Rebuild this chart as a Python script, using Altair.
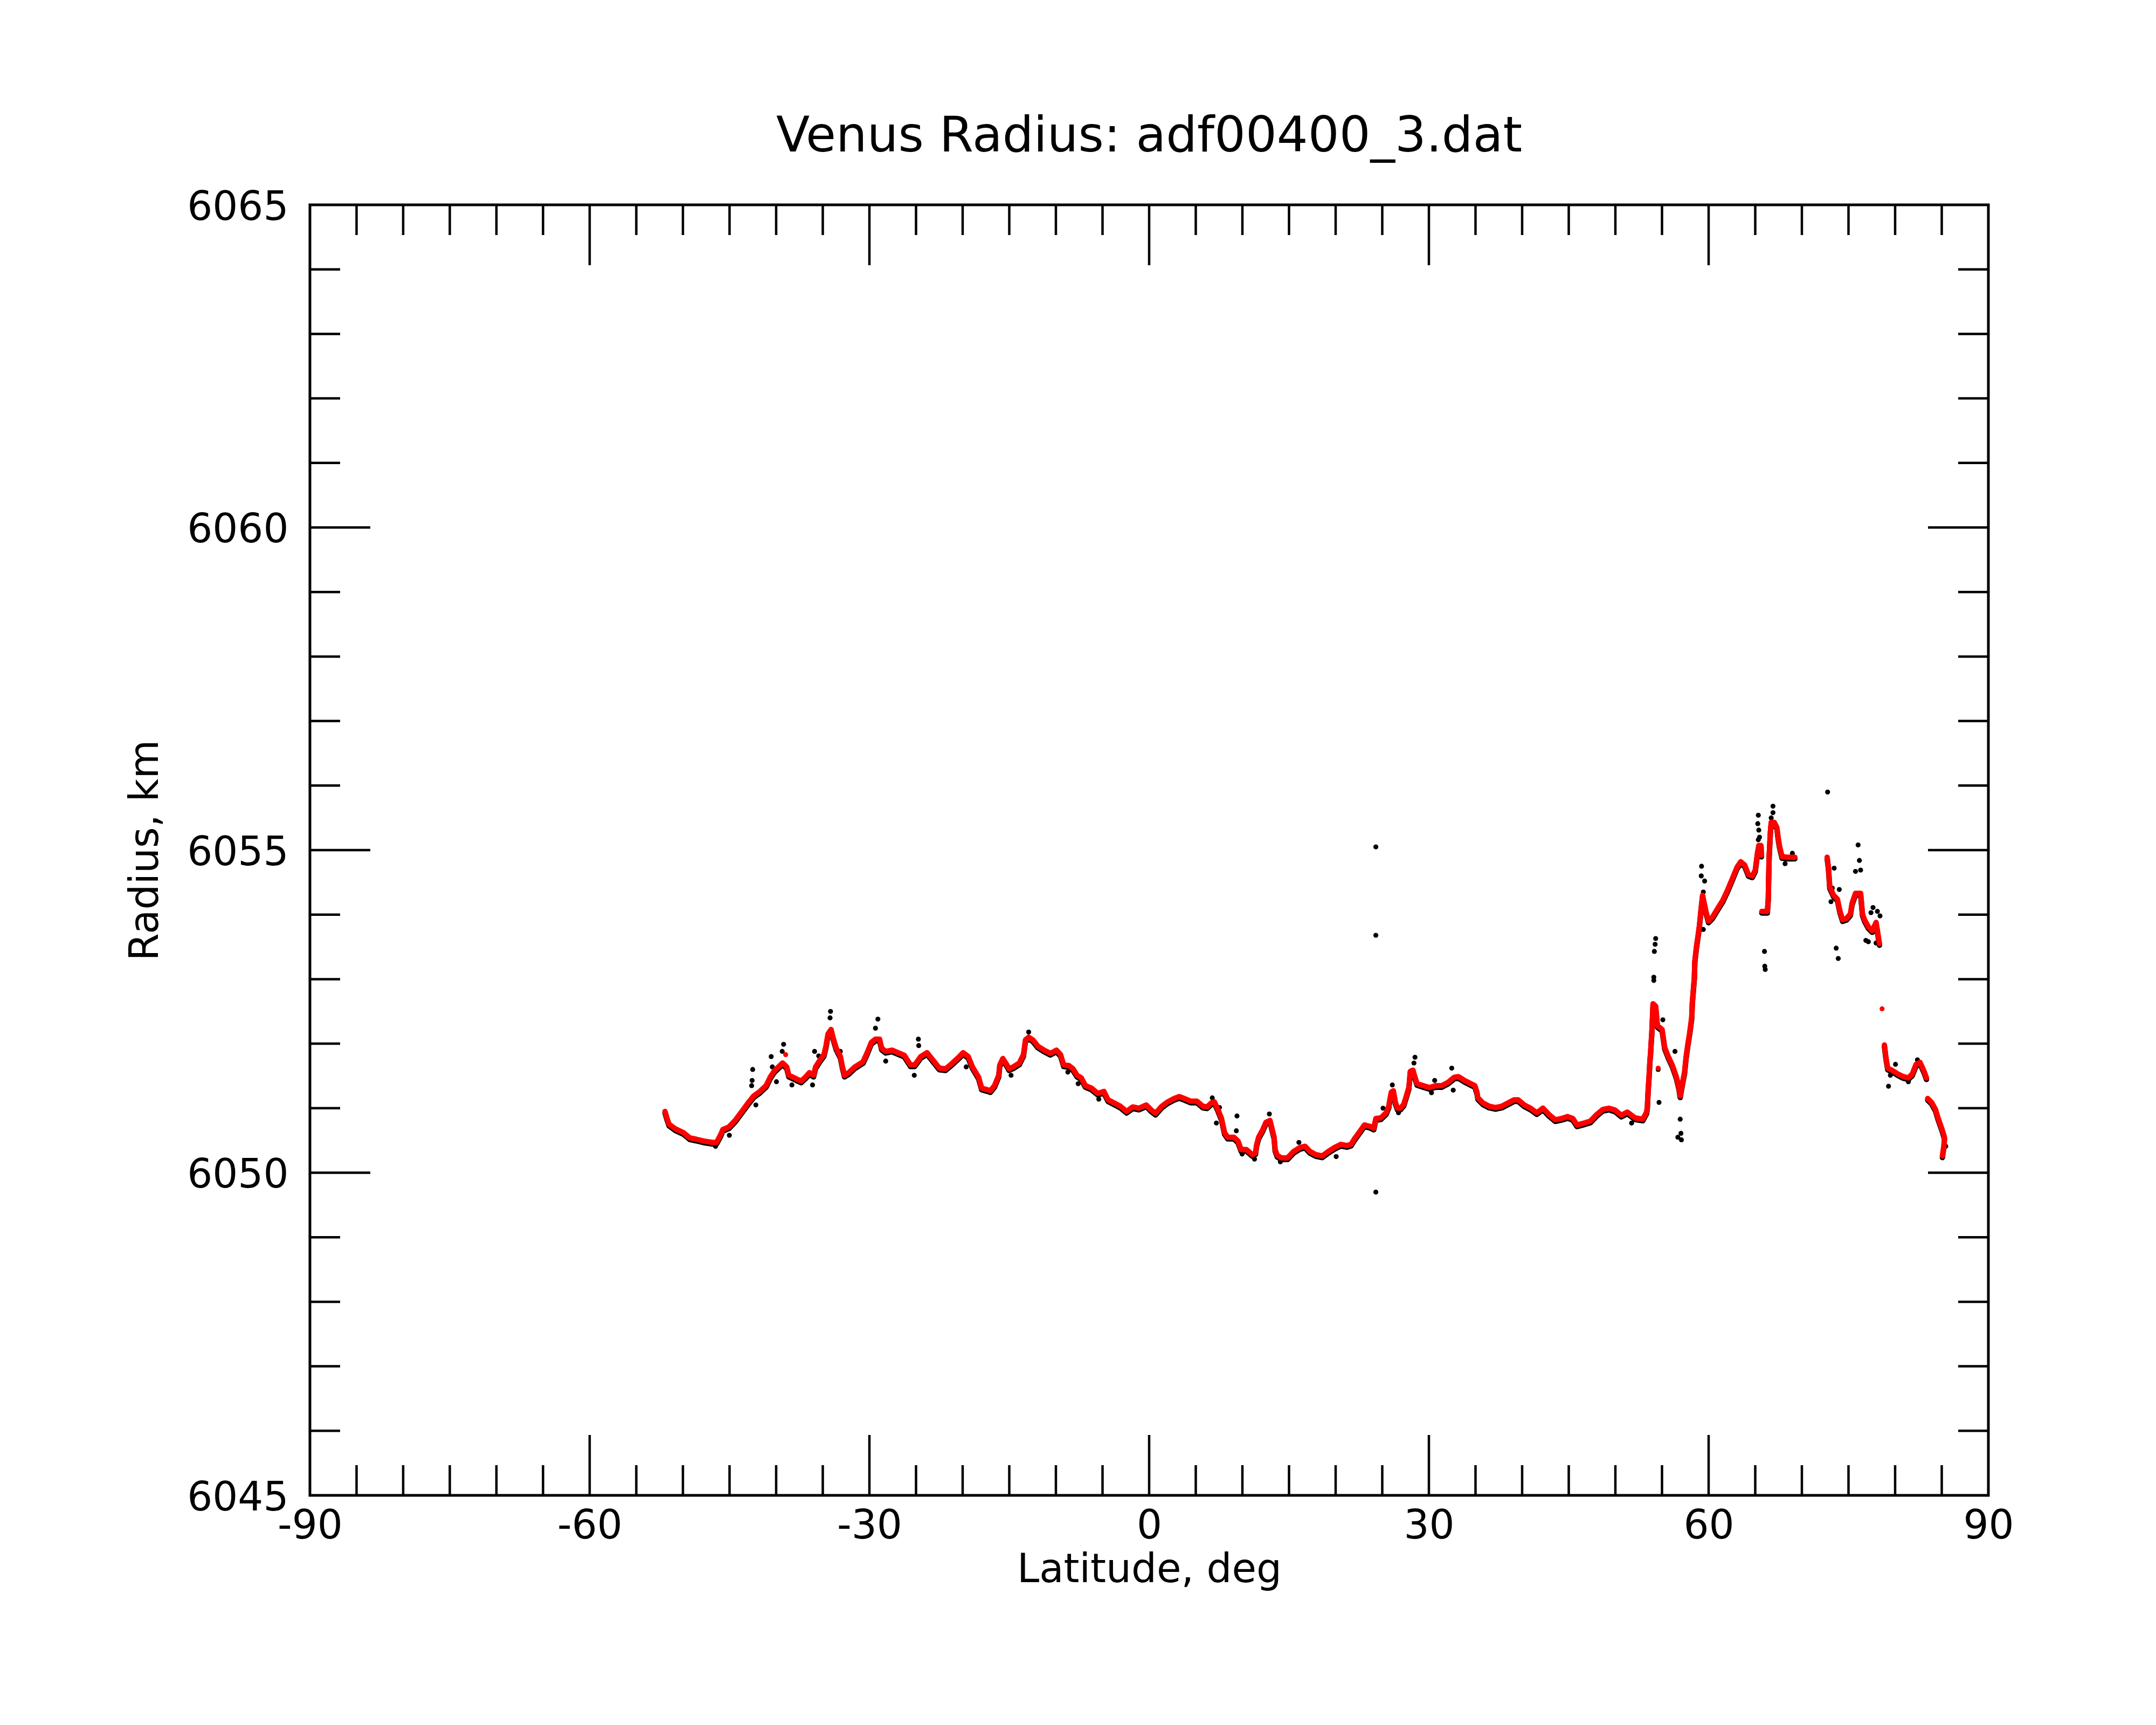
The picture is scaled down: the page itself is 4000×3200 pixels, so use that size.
import altair as alt
import pandas as pd

TITLE = "Venus Radius: adf00400_3.dat"
X_TITLE = "Latitude, deg"
Y_TITLE = "Radius, km"

X_LABELS = [-90, -60, -30, 0, 30, 60, 90]
Y_LABELS = [6045, 6050, 6055, 6060, 6065]
X_MAJOR = [-60, -30, 0, 30, 60]
X_MINOR = [-85, -80, -75, -70, -65, -55, -50, -45, -40, -35, -25, -20, -15, -10, -5,
           5, 10, 15, 20, 25, 35, 40, 45, 50, 55, 65, 70, 75, 80, 85]
Y_MAJOR = [6050, 6055, 6060]
Y_MINOR = [6046, 6047, 6048, 6049, 6051, 6052, 6053, 6054, 6056, 6057, 6058, 6059,
           6061, 6062, 6063, 6064]

# smoothed radius track (red): (latitude, radius)
TRACK_A = [(-51.92, 6050.95), (-51.70, 6050.84), (-51.48, 6050.75), (-50.81, 6050.68),
           (-49.93, 6050.62), (-49.26, 6050.54), (-48.60, 6050.52), (-47.72, 6050.49),
           (-46.83, 6050.47), (-46.39, 6050.47), (-45.95, 6050.59), (-45.72, 6050.67),
           (-45.06, 6050.71), (-44.40, 6050.81), (-43.73, 6050.94), (-43.07, 6051.07),
           (-42.41, 6051.19), (-41.74, 6051.26), (-41.08, 6051.35), (-40.64, 6051.48),
           (-40.19, 6051.58), (-39.75, 6051.64), (-39.31, 6051.70), (-38.87, 6051.64),
           (-38.64, 6051.51), (-38.20, 6051.48), (-37.76, 6051.45), (-37.32, 6051.42),
           (-36.87, 6051.48), (-36.43, 6051.55), (-35.99, 6051.51), (-35.77, 6051.64),
           (-35.33, 6051.74), (-34.88, 6051.83), (-34.66, 6051.96), (-34.44, 6052.15),
           (-34.11, 6052.22), (-33.89, 6052.09), (-33.56, 6051.93), (-33.11, 6051.80),
           (-32.89, 6051.64), (-32.67, 6051.51), (-32.23, 6051.55), (-31.56, 6051.64),
           (-30.68, 6051.72), (-30.24, 6051.86), (-29.79, 6052.02), (-29.35, 6052.07),
           (-28.91, 6052.07), (-28.69, 6051.93), (-28.25, 6051.88), (-27.58, 6051.90),
           (-26.92, 6051.86), (-26.26, 6051.82), (-25.59, 6051.67), (-25.15, 6051.67),
           (-24.49, 6051.80), (-23.82, 6051.86), (-23.16, 6051.74), (-22.49, 6051.62),
           (-21.83, 6051.61), (-21.17, 6051.69), (-20.50, 6051.78), (-19.95, 6051.86),
           (-19.40, 6051.80), (-18.95, 6051.64), (-18.29, 6051.48), (-17.96, 6051.31),
           (-17.45, 6051.29)]

TRACK_B = [(-17.02, 6051.27), (-16.58, 6051.35), (-16.13, 6051.51), (-16.02, 6051.67),
           (-15.69, 6051.77), (-15.25, 6051.67), (-15.03, 6051.61), (-14.58, 6051.64),
           (-13.92, 6051.70), (-13.48, 6051.83), (-13.26, 6052.06), (-12.92, 6052.10),
           (-12.48, 6052.06), (-11.93, 6051.96), (-11.27, 6051.90), (-10.60, 6051.85),
           (-9.94, 6051.90), (-9.50, 6051.83), (-9.16, 6051.67), (-8.61, 6051.66),
           (-8.17, 6051.61), (-7.73, 6051.51), (-7.28, 6051.47), (-6.84, 6051.35),
           (-6.18, 6051.31), (-5.51, 6051.23), (-4.85, 6051.26), (-4.41, 6051.13),
           (-3.74, 6051.08), (-3.08, 6051.03), (-2.42, 6050.95), (-1.75, 6051.02),
           (-1.09, 6051.00), (-0.31, 6051.05), (0.24, 6050.97), (0.68, 6050.92),
           (1.35, 6051.03), (2.01, 6051.10), (2.67, 6051.15), (3.23, 6051.18),
           (3.78, 6051.15), (4.44, 6051.11), (5.11, 6051.11), (5.77, 6051.03),
           (6.21, 6051.02), (6.66, 6051.08), (6.99, 6051.10), (7.32, 6051.00),
           (7.76, 6050.84), (8.09, 6050.62), (8.42, 6050.55), (9.09, 6050.55),
           (9.53, 6050.49), (9.86, 6050.36), (10.42, 6050.36), (11.08, 6050.28),
           (11.41, 6050.31), (11.52, 6050.43), (11.74, 6050.55), (12.19, 6050.67),
           (12.52, 6050.78), (12.96, 6050.81), (13.18, 6050.68), (13.40, 6050.55),
           (13.51, 6050.36), (13.73, 6050.27), (14.18, 6050.23), (14.84, 6050.23),
           (15.50, 6050.33), (16.17, 6050.39), (16.72, 6050.41), (17.23, 6050.33)]

TRACK_C = [(17.89, 6050.28), (18.56, 6050.26), (19.22, 6050.33), (19.88, 6050.39),
           (20.55, 6050.44), (21.21, 6050.42), (21.65, 6050.44), (21.99, 6050.52),
           (22.54, 6050.63), (23.09, 6050.74), (23.65, 6050.72), (24.09, 6050.69),
           (24.31, 6050.84), (24.86, 6050.85), (25.42, 6050.93), (25.70, 6051.03),
           (25.80, 6051.12), (25.97, 6051.25), (26.19, 6051.27), (26.41, 6051.09),
           (26.63, 6051.00), (26.96, 6051.00), (27.30, 6051.06), (27.52, 6051.16),
           (27.85, 6051.32), (27.93, 6051.44), (28.00, 6051.57), (28.29, 6051.59),
           (28.51, 6051.48), (28.73, 6051.38), (29.40, 6051.35), (30.06, 6051.32),
           (30.73, 6051.35), (31.39, 6051.35), (32.05, 6051.40), (32.72, 6051.48),
           (33.16, 6051.49), (33.82, 6051.43), (34.49, 6051.38), (34.93, 6051.35),
           (35.15, 6051.25), (35.26, 6051.16), (35.81, 6051.08), (36.48, 6051.03),
           (37.14, 6051.01), (37.81, 6051.03), (38.47, 6051.08), (39.13, 6051.13),
           (39.58, 6051.13), (40.24, 6051.05), (40.90, 6051.00), (41.57, 6050.93),
           (42.23, 6051.00), (42.89, 6050.90), (43.56, 6050.82), (44.22, 6050.84),
           (44.88, 6050.87), (45.44, 6050.84), (45.88, 6050.74), (46.65, 6050.77),
           (47.32, 6050.80), (47.98, 6050.90), (48.65, 6050.98), (49.31, 6051.00),
           (49.97, 6050.97), (50.64, 6050.89)]

TRACK_D = [(51.28, 6050.94), (52.11, 6050.85), (52.94, 6050.83), (53.35, 6050.94),
           (53.43, 6051.02), (53.49, 6051.22), (53.54, 6051.34), (53.63, 6051.54),
           (53.71, 6051.75), (53.77, 6051.85), (53.85, 6052.05), (53.90, 6052.15),
           (54.04, 6052.62), (54.32, 6052.58), (54.51, 6052.28), (55.01, 6052.22),
           (55.29, 6051.94), (55.70, 6051.79), (56.12, 6051.66), (56.53, 6051.49),
           (56.81, 6051.32), (56.95, 6051.19), (57.22, 6051.41), (57.42, 6051.56),
           (57.58, 6051.79), (57.78, 6052.00), (57.97, 6052.17), (58.19, 6052.41),
           (58.25, 6052.64), (58.47, 6053.03), (58.52, 6053.28), (58.69, 6053.50),
           (58.88, 6053.69), (59.02, 6053.84), (59.16, 6054.05), (59.35, 6054.30),
           (59.71, 6054.05), (59.99, 6053.90), (60.40, 6053.96), (60.95, 6054.09),
           (61.51, 6054.22), (62.06, 6054.39), (62.61, 6054.58), (63.03, 6054.73),
           (63.44, 6054.82), (63.86, 6054.77), (64.27, 6054.62), (64.69, 6054.60),
           (65.00, 6054.69), (65.24, 6054.96), (65.38, 6055.07), (65.62, 6055.07),
           (65.66, 6054.92)]

TRACK_E = [(65.70, 6054.05), (66.30, 6054.05), (66.40, 6054.26), (66.43, 6054.52),
           (66.49, 6054.90), (66.62, 6055.28), (66.71, 6055.43), (67.04, 6055.43),
           (67.32, 6055.35), (67.45, 6055.20), (67.59, 6055.07), (67.87, 6054.90),
           (68.42, 6054.89), (69.25, 6054.89)]

TRACK_F = [(72.71, 6054.89), (72.85, 6054.73), (72.99, 6054.43), (73.40, 6054.30),
           (73.81, 6054.24), (74.09, 6054.05), (74.37, 6053.92), (74.78, 6053.94),
           (75.20, 6054.01), (75.39, 6054.18), (75.75, 6054.33), (76.30, 6054.33),
           (76.50, 6054.01), (76.72, 6053.92), (77.13, 6053.81), (77.55, 6053.75),
           (77.96, 6053.88), (78.10, 6053.75), (78.32, 6053.55)]

TRACK_G = [(78.85, 6051.98), (79.01, 6051.79), (79.21, 6051.62), (79.76, 6051.58),
           (80.31, 6051.53), (80.87, 6051.49), (81.42, 6051.47), (81.84, 6051.53),
           (82.25, 6051.68), (82.67, 6051.71), (83.08, 6051.58), (83.36, 6051.47)]

TRACK_H = [(83.49, 6051.15), (83.91, 6051.09), (84.33, 6050.98), (84.60, 6050.85),
           (85.01, 6050.68), (85.29, 6050.55), (85.24, 6050.43), (85.07, 6050.26)]

RED_SINGLE = [(-38.98, 6051.83), (54.59, 6051.62), (78.60, 6052.54)]

# raw measurements (black) that stand apart from the smoothed track
BLACK_OUT = [(-46.50, 6050.41), (-45.02, 6050.58), (-42.52, 6051.60), (-42.58, 6051.43),
             (-42.63, 6051.35), (-42.18, 6051.05), (-40.53, 6051.80), (-40.41, 6051.64),
             (-39.97, 6051.41), (-39.35, 6051.88), (-39.20, 6051.99), (-38.31, 6051.36),
             (-36.10, 6051.36), (-35.88, 6051.88), (-35.44, 6051.81), (-34.22, 6052.40),
             (-34.17, 6052.50), (-33.12, 6051.88), (-29.91, 6051.96), (-29.35, 6052.24),
             (-29.09, 6052.38), (-28.25, 6051.73), (-25.19, 6051.51), (-24.75, 6052.07),
             (-24.71, 6051.97), (-19.62, 6051.64), (-14.81, 6051.51), (-12.92, 6052.18),
             (-8.72, 6051.56), (-7.61, 6051.38), (-5.40, 6051.14), (6.77, 6051.16),
             (7.21, 6050.77), (7.54, 6051.01), (9.35, 6050.65), (9.42, 6050.88),
             (9.97, 6050.29), (11.30, 6050.21), (12.89, 6050.91), (14.07, 6050.17),
             (16.06, 6050.47), (20.06, 6050.25), (24.31, 6049.70), (24.31, 6053.68),
             (24.31, 6055.05), (25.08, 6051.00), (26.08, 6051.36), (26.74, 6050.93),
             (28.40, 6051.70), (28.51, 6051.79), (30.28, 6051.24), (30.62, 6051.43),
             (32.45, 6051.62), (32.61, 6051.28), (51.74, 6050.77),
             (54.12, 6052.98), (54.12, 6053.03), (54.18, 6053.43), (54.26, 6053.54),
             (54.32, 6053.63), (54.59, 6051.60), (54.68, 6051.09), (55.09, 6052.37),
             (56.39, 6051.88), (56.70, 6050.55), (56.95, 6050.83), (57.03, 6050.61),
             (57.08, 6050.51), (59.21, 6054.60), (59.24, 6054.75), (59.43, 6054.35),
             (59.43, 6053.77), (59.57, 6054.52), (65.27, 6055.41), (65.33, 6055.54),
             (65.33, 6055.16), (65.38, 6055.31), (65.46, 6055.20), (65.99, 6053.43),
             (66.02, 6053.20), (66.07, 6053.15), (66.71, 6055.50), (66.90, 6055.58),
             (66.90, 6055.68), (68.20, 6054.79), (68.98, 6054.95), (72.76, 6055.90),
             (73.12, 6054.20), (73.26, 6054.41), (73.46, 6054.72), (73.68, 6053.48),
             (73.90, 6053.32), (74.01, 6054.39), (75.75, 6054.67), (76.03, 6055.08),
             (76.17, 6054.84), (76.30, 6054.69), (76.86, 6053.60), (77.13, 6053.58),
             (77.41, 6054.03), (77.63, 6054.11), (77.96, 6053.56), (78.10, 6054.05),
             (78.38, 6053.98), (79.29, 6051.34), (79.49, 6051.51), (80.04, 6051.68),
             (81.42, 6051.41), (82.39, 6051.75), (85.43, 6050.41)]

PATHS = [TRACK_A + TRACK_B + TRACK_C + TRACK_D, TRACK_E, TRACK_F, TRACK_G, TRACK_H]

W, H = 3114, 2394
MAJ, MIN = 112, 56
FONT = "DejaVu Sans"
TICK_W = 4.5

rows = []
for s, path in enumerate(PATHS):
    for i, (la, rr) in enumerate(path):
        rows.append({"lat": la, "r": rr, "seg": s, "idx": i})
track = pd.DataFrame(rows)
outliers = pd.DataFrame(BLACK_OUT, columns=["lat", "r"])
singles = pd.DataFrame(RED_SINGLE, columns=["lat", "r"])

x_axis = alt.Axis(values=X_LABELS, labelExpr="'' + datum.value", domain=False, ticks=False,
                  tickSize=0, grid=False, labelFont=FONT, labelFontSize=74, labelColor="black",
                  labelPadding=21, labelFlush=False, labelOverlap=False, labelLimit=0,
                  title=X_TITLE, titleFont=FONT, titleFontSize=74, titleFontWeight="normal",
                  titleColor="black", titleBaseline="alphabetic", titleX=W / 2, titleY=160,
                  titleAlign="center", titleLimit=0)
y_axis = alt.Axis(values=Y_LABELS, labelExpr="'' + datum.value", domain=False, ticks=False,
                  tickSize=0, grid=False, labelFont=FONT, labelFontSize=74, labelColor="black",
                  labelPadding=40, labelOffset=5, labelFlush=False, labelOverlap=False,
                  labelLimit=0,
                  title=Y_TITLE, titleFont=FONT, titleFontSize=74, titleFontWeight="normal",
                  titleColor="black", titleBaseline="alphabetic", titleX=-283, titleY=H / 2,
                  titleAngle=270, titleAlign="center", titleLimit=0)

X = alt.X("lat:Q", scale=alt.Scale(domain=[-90, 90], nice=False, zero=False), axis=x_axis)
Y = alt.Y("r:Q", scale=alt.Scale(domain=[6045, 6065], nice=False, zero=False), axis=y_axis)

black_pts = alt.Chart(outliers).mark_circle(color="black", size=85, opacity=1).encode(x=X, y=Y)
black_line = alt.Chart(track).mark_line(color="black", strokeWidth=10, strokeCap="round",
                                        strokeJoin="round", yOffset=3).encode(
    x=X, y=Y, detail="seg:N", order="idx:Q")
red_line = alt.Chart(track).mark_line(color="#ff0000", strokeWidth=10, strokeCap="round",
                                      strokeJoin="round").encode(
    x=X, y=Y, detail="seg:N", order="idx:Q")
red_pts = alt.Chart(singles).mark_circle(color="#ff0000", size=85, opacity=1).encode(x=X, y=Y)


def xticks(vals, y0, y1):
    df = pd.DataFrame({"lat": vals})
    return alt.Chart(df).mark_rule(color="black", strokeWidth=TICK_W).encode(
        x=X, y=alt.value(y0), y2=alt.value(y1))


def yticks(vals, x0, x1):
    df = pd.DataFrame({"r": vals})
    return alt.Chart(df).mark_rule(color="black", strokeWidth=TICK_W).encode(
        y=Y, x=alt.value(x0), x2=alt.value(x1))


ticks = [
    xticks(X_MINOR, H, H - MIN), xticks(X_MAJOR, H, H - MAJ),
    xticks(X_MINOR, 0, MIN), xticks(X_MAJOR, 0, MAJ),
    yticks(Y_MINOR, 0, MIN), yticks(Y_MAJOR, 0, MAJ),
    yticks(Y_MINOR, W, W - MIN), yticks(Y_MAJOR, W, W - MAJ),
]

chart = alt.layer(black_pts, black_line, red_line, red_pts, *ticks).properties(
    width=W, height=H,
    title=alt.TitleParams(text=TITLE, font=FONT, fontSize=91, fontWeight="normal",
                          color="black", anchor="middle", frame="group",
                          baseline="alphabetic", offset=98, dy=122),
    autosize=alt.AutoSizeParams(type="none"),
    padding={"left": 567, "top": 372, "right": 150, "bottom": 300},
    background="white",
).configure_view(stroke="black", strokeWidth=5)

chart.save("out.html", embed_options={"renderer": "svg", "actions": False})
